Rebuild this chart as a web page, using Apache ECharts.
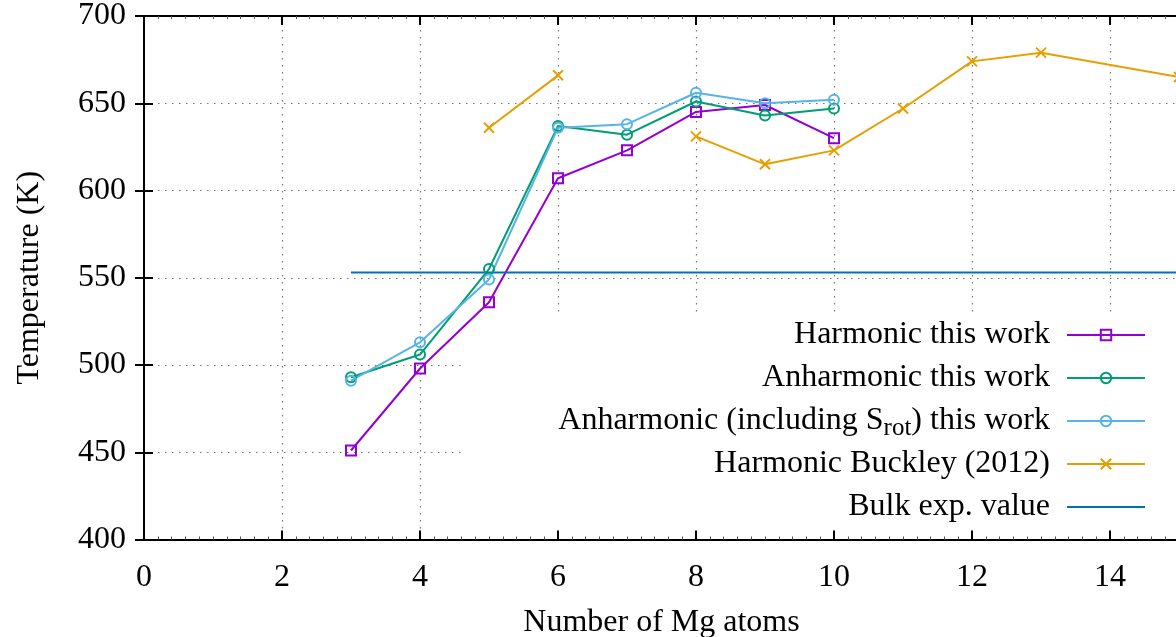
<!DOCTYPE html>
<html>
<head>
<meta charset="utf-8">
<script src="https://cdn.jsdelivr.net/npm/echarts@6/dist/echarts.min.js"></script>
<style>
  html, body { margin: 0; padding: 0; background: #fff; }
  #chart { width: 1176px; height: 637px; }
</style>
</head>
<body>
<div id="chart"></div>
<script>
// data
var nMg = [3, 4, 5, 6, 7, 8, 9, 10];
var harmonic = [451, 498, 536, 607, 623, 645, 649, 630];
var anharmonic = [493, 506, 555, 637, 632, 651, 643, 647];
var anharmonicRot = [491, 513, 549, 636, 638, 656, 650, 652];
var buckleyX = [5, 6, 7, 8, 9, 10, 11, 12, 13, 15];
var buckleyY = [636, 666, '-', 631, 615, 623, 647, 674, 679, 665];
var bulkX = [3, 15];
var bulkY = [553, 553];
var names = [
    'Harmonic this work',
    'Anharmonic this work',
    'Anharmonic (including Srot) this work',
    'Harmonic Buckley (2012)',
    'Bulk exp. value'
];

var font = 'Liberation Serif';

function pairs(xs, ys) {
    return xs.map(function (x, i) { return [x, ys[i]]; });
}

// markers are open (transparent inside), line goes through centre
function markerSeries(name, color, symbol, data) {
    return {
        name: name,
        type: 'line',
        data: data,
        symbol: symbol,
        symbolSize: 10,
        lineStyle: { color: color, width: 2 },
        itemStyle: { color: 'rgba(255,255,255,0)', borderColor: color, borderWidth: 2 },
        z: 2
    };
}

var chart = echarts.init(document.getElementById('chart'));

var tickAxisX = {
    type: 'value', min: 0, max: 15, interval: 2, z: 3,
    axisLine: { show: true, lineStyle: { color: '#000', width: 2 } },
    axisTick: { show: true, inside: true, length: 9, lineStyle: { color: '#000', width: 2 } },
    splitLine: { show: false }
};
var tickAxisY = {
    type: 'value', min: 400, max: 700, interval: 50, z: 3,
    axisLine: { show: true, lineStyle: { color: '#000', width: 2 } },
    axisTick: { show: true, inside: true, length: 9, lineStyle: { color: '#000', width: 2 } },
    splitLine: { show: false }
};
var dotted = { color: '#777', width: 1.2, type: [1.5, 5.5] };

var option = {
    animation: false,
    backgroundColor: '#fff',
    grid: { left: 144, top: 16, width: 1035, height: 523.5, outerBoundsMode: 'none', containLabel: false },
    xAxis: [
        echarts.util.merge({
            position: 'bottom',
            minorTick: { show: true, splitNumber: 10, length: 3, lineStyle: { color: '#555', width: 1 } },
            axisLabel: { margin: 22, fontFamily: font, fontSize: 32, color: '#000', showMaxLabel: false },
            name: 'Number of Mg atoms',
            nameLocation: 'middle',
            nameGap: 67,
            nameTextStyle: { fontFamily: font, fontSize: 32, color: '#000' }
        }, tickAxisX, true),
        echarts.util.merge({
            position: 'top',
            minorTick: { show: true, splitNumber: 10, length: 3, lineStyle: { color: '#555', width: 1 } },
            axisLabel: { show: false }
        }, tickAxisX, true),
        {
            type: 'value', min: 0, max: 15, interval: 2, position: 'bottom', z: 0,
            axisLine: { show: false }, axisTick: { show: false }, axisLabel: { show: false },
            splitLine: { show: true, lineStyle: dotted }
        }
    ],
    yAxis: [
        echarts.util.merge({
            position: 'left',
            axisLabel: { margin: 18, fontFamily: font, fontSize: 32, color: '#000' },
            name: 'Temperature (K)',
            nameLocation: 'middle',
            nameGap: 98,
            nameTextStyle: { fontFamily: font, fontSize: 32, color: '#000' }
        }, tickAxisY, true),
        echarts.util.merge({
            position: 'right',
            axisLabel: { show: false }
        }, tickAxisY, true),
        {
            type: 'value', min: 400, max: 700, interval: 50, position: 'left', z: 0,
            axisLine: { show: false }, axisTick: { show: false }, axisLabel: { show: false },
            splitLine: { show: true, lineStyle: dotted }
        }
    ],
    // opaque key box hides the grid behind the legend
    graphic: [{
        type: 'rect', z: 1,
        shape: { x: 465, y: 312, width: 720, height: 227 },
        style: { fill: '#fff' },
        silent: true
    }],
    legend: {
        data: names,
        orient: 'vertical',
        align: 'right',
        right: 30,
        top: 315,
        padding: 0,
        itemWidth: 78,
        itemHeight: 13,
        itemGap: 3,
        formatter: function (name) {
            return name.replace('Srot', 'S{sub|rot}');
        },
        textStyle: {
            fontFamily: font, fontSize: 32, color: '#000', lineHeight: 40,
            padding: [0, 12, 0, 0],
            rich: {
                sub: { fontFamily: font, fontSize: 25, color: '#000', lineHeight: 20, verticalAlign: 'bottom' }
            }
        }
    },
    series: [
        markerSeries(names[0], '#9400d3', 'rect', pairs(nMg, harmonic)),
        markerSeries(names[1], '#009e73', 'circle', pairs(nMg, anharmonic)),
        markerSeries(names[2], '#56b4e9', 'circle', pairs(nMg, anharmonicRot)),
        markerSeries(names[3], '#e69f00', 'path://M0,0L10,10M10,0L0,10', pairs(buckleyX, buckleyY)),
        {
            name: names[4],
            type: 'line',
            data: pairs(bulkX, bulkY),
            symbol: 'none',
            lineStyle: { color: '#0072b2', width: 2 },
            itemStyle: { color: 'rgba(0,0,0,0)' },
            z: 2
        }
    ]
};

chart.setOption(option);
</script>
</body>
</html>
